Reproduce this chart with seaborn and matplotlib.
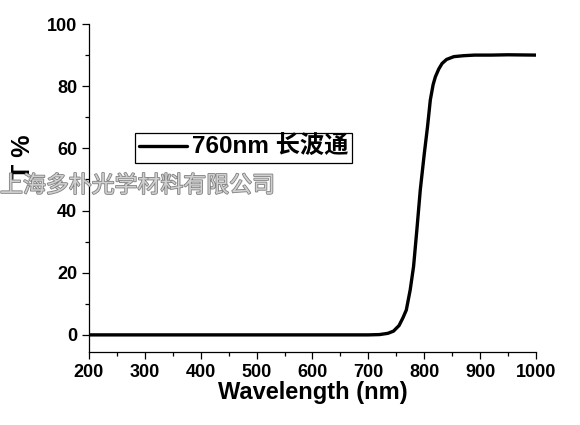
import matplotlib
matplotlib.use('Agg')
import matplotlib.pyplot as plt
import matplotlib.patheffects as pe
from matplotlib.ticker import MultipleLocator
import pandas as pd
import seaborn as sns

# transmission curve
wavelength = [200, 300, 400, 500, 600, 700, 720, 735, 745, 755, 762, 768, 775, 781,
              787, 793, 800, 806, 811, 816, 820, 826, 832, 840, 853, 870, 890, 920, 950, 1000]
transmit = [0, 0, 0, 0, 0, 0, 0.1, 0.5, 1.2, 3, 5.5, 8, 14.5, 22,
            34, 46.6, 58, 67, 75.6, 80.5, 83, 85.5, 87.3, 88.6, 89.5, 89.8, 90, 90, 90.1, 90]
series_label = '760nm 长波通'
watermark = '上海多朴光学材料有限公司'

df = pd.DataFrame({'wl': wavelength, 'T': transmit})

sns.set_style('ticks')
plt.rcParams['font.family'] = ['Liberation Sans', 'Noto Sans CJK SC', 'DejaVu Sans']
plt.rcParams['axes.linewidth'] = 0.9
plt.rcParams['text.color'] = 'black'
plt.rcParams['axes.labelcolor'] = 'black'

fig = plt.figure(figsize=(5.8, 4.25), dpi=100)
ax = fig.add_axes([0.1534, 0.1718, 0.7706, 0.7717])

sns.lineplot(data=df, x='wl', y='T', ax=ax, color='black', linewidth=2.4,
             label=series_label)

ax.set_xlim(200, 1000)
ax.set_ylim(-5.5, 100)
ax.xaxis.set_major_locator(MultipleLocator(100))
ax.xaxis.set_minor_locator(MultipleLocator(50))
ax.yaxis.set_major_locator(MultipleLocator(20))
ax.yaxis.set_minor_locator(MultipleLocator(10))
ax.tick_params(which='major', direction='out', length=5, width=0.9, colors='black',
               labelsize=13)
ax.tick_params(which='minor', direction='out', length=3, width=0.9, colors='black')
for lab in ax.get_xticklabels() + ax.get_yticklabels():
    lab.set_fontweight('bold')

sns.despine(ax=ax)
for s in ['left', 'bottom']:
    ax.spines[s].set_color('black')

ax.set_xlabel('Wavelength (nm)', fontsize=17, fontweight='bold', labelpad=0)
ax.set_ylabel('T %', fontsize=18, fontweight='bold')
ax.yaxis.set_label_coords(-0.121, 0.595)

leg = ax.legend(loc='upper left', bbox_to_anchor=(0.103, 0.669), borderaxespad=0,
                fancybox=False, edgecolor='black', framealpha=1, handlelength=2.0,
                handletextpad=0.2, borderpad=0.15,
                prop={'size': 17.5, 'weight': 'bold'})
leg.get_frame().set_linewidth(0.9)

fig.text(0.0, 0.563, watermark, fontsize=16.5, color='#d0d0d0', style='italic',
         va='center', ha='left', zorder=10,
         family=['Noto Sans CJK SC', 'DejaVu Sans'],
         path_effects=[pe.Stroke(linewidth=1.2, foreground='#808080'), pe.Normal()])

fig.savefig('out.png', dpi=100)
